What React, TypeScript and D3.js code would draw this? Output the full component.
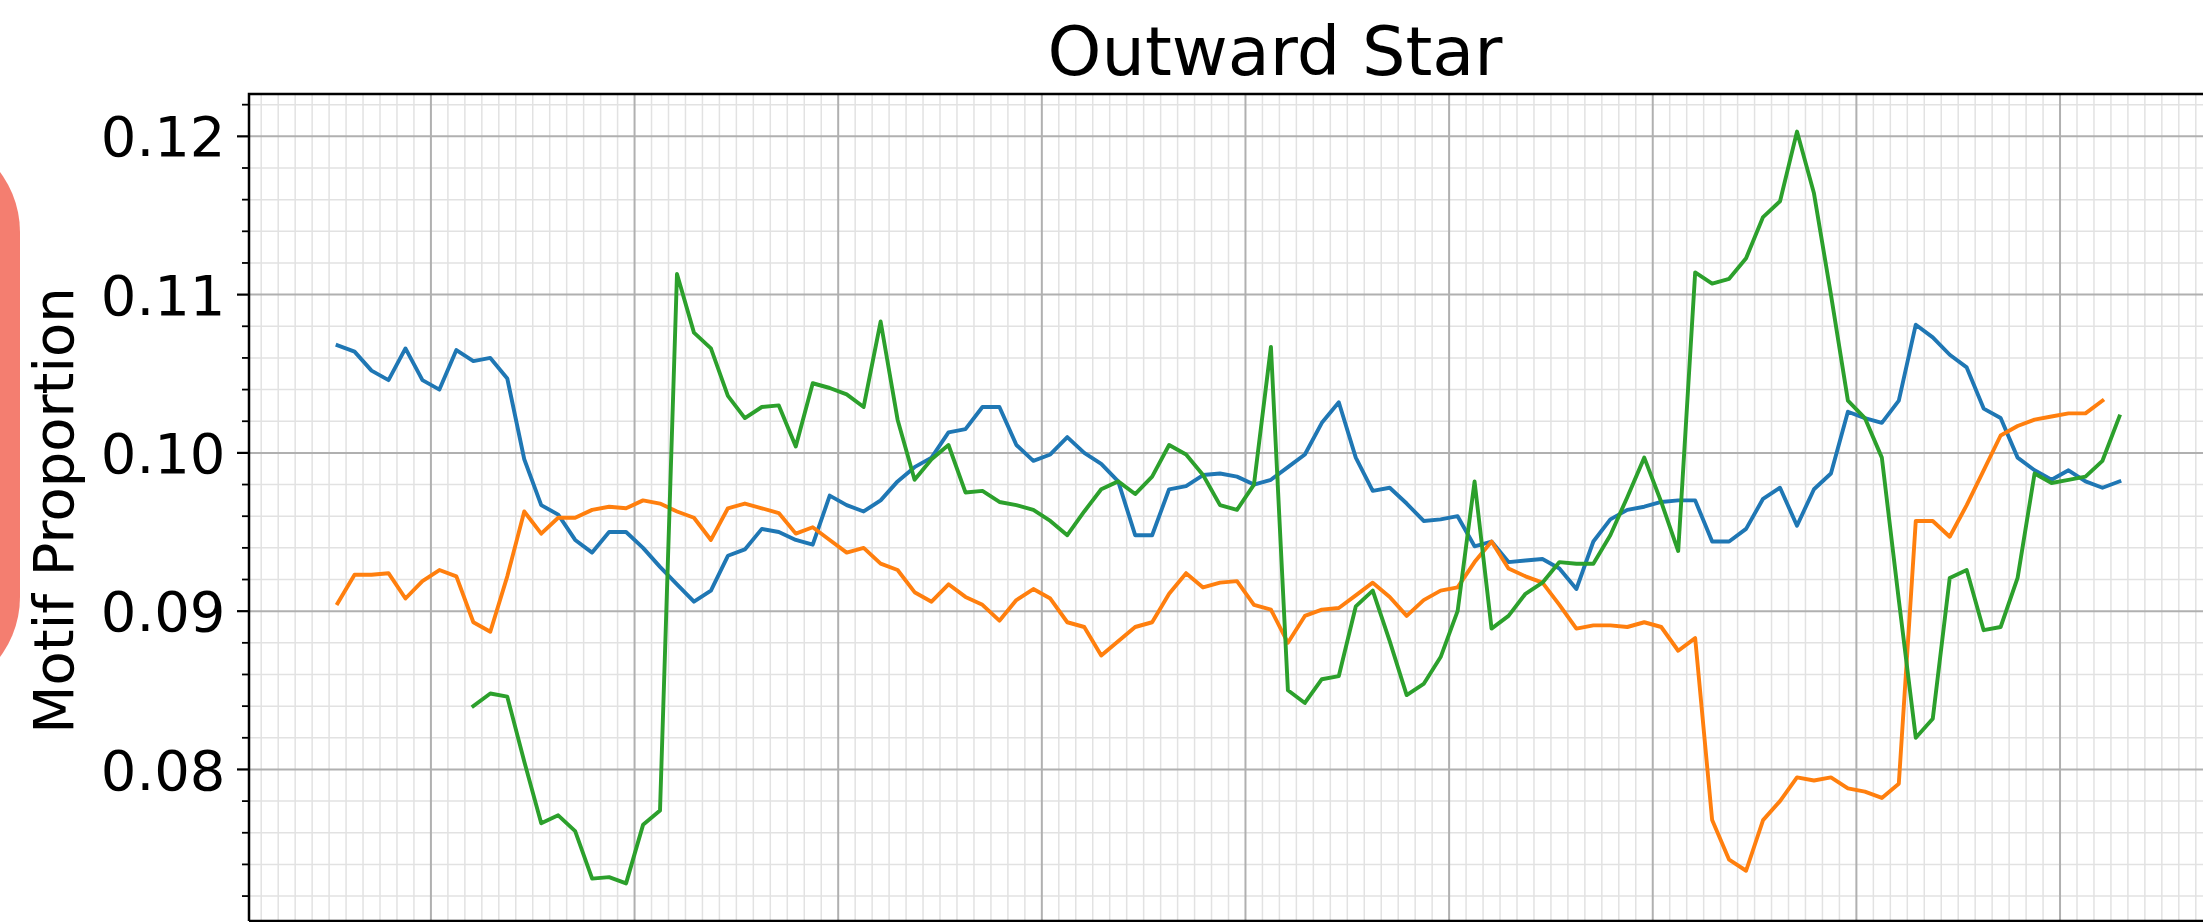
import React, { useEffect, useRef } from 'react';
import * as d3 from 'd3';

// monthly motif proportions; month index 0 is the first labelled year tick
const blueStart = -6;
const orangeStart = -6;
const greenStart = 2;

const blueValues = [
  0.1068, 0.1064, 0.1052, 0.1046, 0.1066, 0.1046, 0.1040, 0.1065, 0.1058, 0.1060, 0.1047, 0.0996,
  0.0967, 0.0961, 0.0945, 0.0937, 0.0950, 0.0950, 0.0940, 0.0928, 0.0917, 0.0906, 0.0913, 0.0935,
  0.0939, 0.0952, 0.0950, 0.0945, 0.0942, 0.0973, 0.0967, 0.0963, 0.0970, 0.0982, 0.0991, 0.0997,
  0.1013, 0.1015, 0.1029, 0.1029, 0.1005, 0.0995, 0.0999, 0.1010, 0.1000, 0.0993, 0.0982, 0.0948,
  0.0948, 0.0977, 0.0979, 0.0986, 0.0987, 0.0985, 0.0980, 0.0983, 0.0991, 0.0999, 0.1019, 0.1032,
  0.0997, 0.0976, 0.0978, 0.0968, 0.0957, 0.0958, 0.0960, 0.0941, 0.0944, 0.0931, 0.0932, 0.0933,
  0.0927, 0.0914, 0.0944, 0.0958, 0.0964, 0.0966, 0.0969, 0.0970, 0.0970, 0.0944, 0.0944, 0.0952,
  0.0971, 0.0978, 0.0954, 0.0977, 0.0987, 0.1026, 0.1022, 0.1019, 0.1033, 0.1081, 0.1073, 0.1062,
  0.1054, 0.1028, 0.1022, 0.0997, 0.0989, 0.0983, 0.0989, 0.0982, 0.0978, 0.0982,
];

const orangeValues = [
  0.0905, 0.0923, 0.0923, 0.0924, 0.0908, 0.0919, 0.0926, 0.0922, 0.0893, 0.0887, 0.0922, 0.0963,
  0.0949, 0.0959, 0.0959, 0.0964, 0.0966, 0.0965, 0.0970, 0.0968, 0.0963, 0.0959, 0.0945, 0.0965,
  0.0968, 0.0965, 0.0962, 0.0949, 0.0953, 0.0945, 0.0937, 0.0940, 0.0930, 0.0926, 0.0912, 0.0906,
  0.0917, 0.0909, 0.0904, 0.0894, 0.0907, 0.0914, 0.0908, 0.0893, 0.0890, 0.0872, 0.0881, 0.0890,
  0.0893, 0.0911, 0.0924, 0.0915, 0.0918, 0.0919, 0.0904, 0.0901, 0.0880, 0.0897, 0.0901, 0.0902,
  0.0910, 0.0918, 0.0909, 0.0897, 0.0907, 0.0913, 0.0915, 0.0931, 0.0944, 0.0927, 0.0922, 0.0918,
  0.0904, 0.0889, 0.0891, 0.0891, 0.0890, 0.0893, 0.0890, 0.0875, 0.0883, 0.0768, 0.0743, 0.0736,
  0.0768, 0.0780, 0.0795, 0.0793, 0.0795, 0.0788, 0.0786, 0.0782, 0.0791, 0.0957, 0.0957, 0.0947,
  0.0967, 0.0989, 0.1011, 0.1017, 0.1021, 0.1023, 0.1025, 0.1025, 0.1033,
];

const greenValues = [
  0.0840, 0.0848, 0.0846, 0.0805, 0.0766, 0.0771, 0.0761, 0.0731, 0.0732, 0.0728, 0.0765, 0.0774,
  0.1113, 0.1076, 0.1066, 0.1036, 0.1022, 0.1029, 0.1030, 0.1004, 0.1044, 0.1041, 0.1037, 0.1029,
  0.1083, 0.1021, 0.0983, 0.0996, 0.1005, 0.0975, 0.0976, 0.0969, 0.0967, 0.0964, 0.0957, 0.0948,
  0.0963, 0.0977, 0.0982, 0.0974, 0.0985, 0.1005, 0.0999, 0.0986, 0.0967, 0.0964, 0.0980, 0.1067,
  0.0850, 0.0842, 0.0857, 0.0859, 0.0903, 0.0913, 0.0881, 0.0847, 0.0854, 0.0871, 0.0900, 0.0982,
  0.0889, 0.0897, 0.0911, 0.0918, 0.0931, 0.0930, 0.0930, 0.0948, 0.0972, 0.0997, 0.0969, 0.0938,
  0.1114, 0.1107, 0.1110, 0.1123, 0.1149, 0.1159, 0.1203, 0.1164, 0.1100, 0.1033, 0.1022, 0.0997,
  0.0907, 0.0820, 0.0832, 0.0921, 0.0926, 0.0888, 0.0890, 0.0921, 0.0987, 0.0981, 0.0983, 0.0985,
  0.0995, 0.1023,
];

const yTicks = [0.08, 0.09, 0.1, 0.11, 0.12];
const yTickLabels = ['0.08', '0.09', '0.10', '0.11', '0.12'];

const title = 'Outward Star';
const yLabel = 'Motif Proportion';

const W = 2203;
const H = 922;

const App = () => {
  const chartRef = useRef<HTMLDivElement>(null);

  useEffect(() => {
    const margin = { top: 94, left: 249, right: 2301, bottom: 921 };
    const font = "'DejaVu Sans', sans-serif";

    d3.select(chartRef.current).selectAll('*').remove();

    const svg = d3
      .select(chartRef.current)
      .append('svg')
      .attr('width', W)
      .attr('height', H)
      .style('display', 'block');

    const series = [
      { start: blueStart, values: blueValues, color: '#1f77b4' },
      { start: orangeStart, values: orangeValues, color: '#ff7f0e' },
      { start: greenStart, values: greenValues, color: '#2ca02c' },
    ];

    // x: months (points sit mid-month), y: padded 5% like matplotlib
    const x = d3.scaleLinear().domain([-10.72, 110.2]).range([margin.left, margin.right]);
    const all = series.flatMap((s) => s.values);
    const [lo, hi] = d3.extent(all) as [number, number];
    const pad = (hi - lo) * 0.05;
    const y = d3.scaleLinear().domain([lo - pad, hi + pad]).range([margin.bottom, margin.top]);

    // salmon marker on the far left
    svg
      .append('rect')
      .attr('x', -300)
      .attr('y', 132)
      .attr('width', 320)
      .attr('height', 565)
      .attr('rx', 100)
      .attr('fill', '#f47e70');

    const grid = svg.append('g');
    const [x0, x1] = x.domain();
    const months = d3.range(Math.ceil(x0), Math.floor(x1) + 1);
    const yMinor = d3.range(0.072, 0.1231, 0.002).filter((v) => Math.abs(v * 100 - Math.round(v * 100)) > 1e-6);

    grid
      .selectAll('.vminor')
      .data(months.filter((m) => m % 12 !== 0))
      .join('line')
      .attr('x1', (d) => x(d))
      .attr('x2', (d) => x(d))
      .attr('y1', margin.top)
      .attr('y2', margin.bottom)
      .attr('stroke', '#e2e2e2')
      .attr('stroke-width', 1.5);

    grid
      .selectAll('.hminor')
      .data(yMinor)
      .join('line')
      .attr('x1', margin.left)
      .attr('x2', margin.right)
      .attr('y1', (d) => y(d))
      .attr('y2', (d) => y(d))
      .attr('stroke', '#e2e2e2')
      .attr('stroke-width', 1.5);

    grid
      .selectAll('.vmajor')
      .data(months.filter((m) => m % 12 === 0))
      .join('line')
      .attr('x1', (d) => x(d))
      .attr('x2', (d) => x(d))
      .attr('y1', margin.top)
      .attr('y2', margin.bottom)
      .attr('stroke', '#b0b0b0')
      .attr('stroke-width', 2);

    grid
      .selectAll('.hmajor')
      .data(yTicks)
      .join('line')
      .attr('x1', margin.left)
      .attr('x2', margin.right)
      .attr('y1', (d) => y(d))
      .attr('y2', (d) => y(d))
      .attr('stroke', '#b0b0b0')
      .attr('stroke-width', 2);

    // the three series
    series.forEach((s) => {
      const path = d3
        .line<number>()
        .x((_, i) => x(s.start + i + 0.5))
        .y((d) => y(d));
      svg
        .append('path')
        .datum(s.values)
        .attr('d', path)
        .attr('fill', 'none')
        .attr('stroke', s.color)
        .attr('stroke-width', 3.9)
        .attr('stroke-linejoin', 'round')
        .attr('stroke-linecap', 'square');
    });

    // spines
    svg
      .append('path')
      .attr('d', `M${margin.left},${margin.bottom}V${margin.top}H${margin.right}`)
      .attr('fill', 'none')
      .attr('stroke', '#000')
      .attr('stroke-width', 2.5);
    svg
      .append('line')
      .attr('x1', margin.left)
      .attr('x2', margin.right)
      .attr('y1', margin.bottom)
      .attr('y2', margin.bottom)
      .attr('stroke', '#000')
      .attr('stroke-width', 2.5);

    // y ticks
    svg
      .selectAll('.ymajor')
      .data(yTicks)
      .join('line')
      .attr('x1', margin.left - 12)
      .attr('x2', margin.left)
      .attr('y1', (d) => y(d))
      .attr('y2', (d) => y(d))
      .attr('stroke', '#000')
      .attr('stroke-width', 2.2);

    svg
      .selectAll('.yminor')
      .data(yMinor)
      .join('line')
      .attr('x1', margin.left - 7)
      .attr('x2', margin.left)
      .attr('y1', (d) => y(d))
      .attr('y2', (d) => y(d))
      .attr('stroke', '#000')
      .attr('stroke-width', 1.8);

    svg
      .selectAll('.ylabel')
      .data(yTicks)
      .join('text')
      .attr('x', margin.left - 23.5)
      .attr('y', (d) => y(d))
      .attr('dy', '0.36em')
      .attr('text-anchor', 'end')
      .attr('font-family', font)
      .attr('font-size', 56)
      .attr('fill', '#000')
      .text((_, i) => yTickLabels[i]);

    svg
      .append('text')
      .attr('transform', `translate(73,${(margin.top + margin.bottom) / 2 + 3}) rotate(-90)`)
      .attr('text-anchor', 'middle')
      .attr('font-family', font)
      .attr('font-size', 56)
      .attr('fill', '#000')
      .text(yLabel);

    svg
      .append('text')
      .attr('x', (margin.left + margin.right) / 2)
      .attr('y', 75)
      .attr('text-anchor', 'middle')
      .attr('font-family', font)
      .attr('font-size', 68.5)
      .attr('fill', '#000')
      .text(title);
  }, []);

  return <div ref={chartRef} style={{ position: 'absolute', left: 0, top: 0, width: W, height: H, overflow: 'hidden' }}></div>;
};

export default App;
